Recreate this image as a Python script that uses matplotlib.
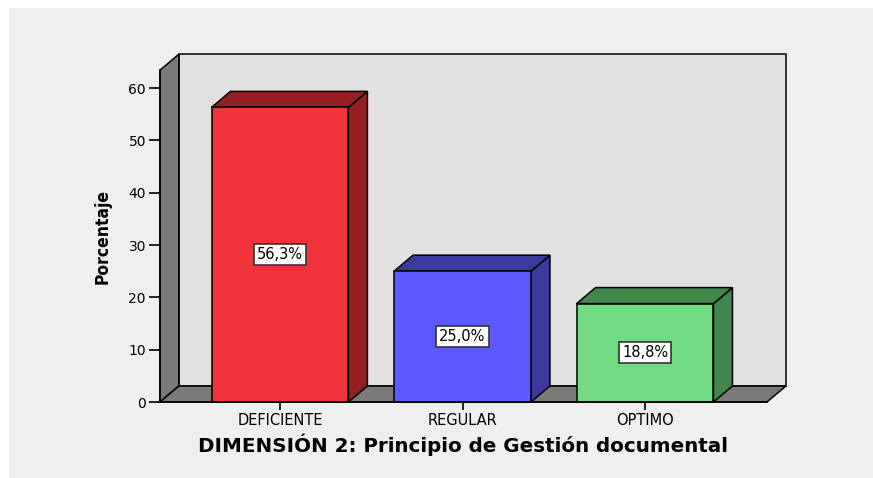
import matplotlib
matplotlib.use("Agg")
import matplotlib.pyplot as plt
from matplotlib.patches import Polygon, Rectangle
from matplotlib import font_manager

# data
categorias = ["DEFICIENTE", "REGULAR", "OPTIMO"]
porcentajes = [56.3, 25.0, 18.8]
y_ticks = [0, 10, 20, 30, 40, 50, 60]

# colours: front face / side+top face
frente = ["#F0323A", "#5A5AFF", "#70DB82"]
lado = ["#951E22", "#3A3A9E", "#41874D"]

# 3d look: depth offset, bar width, wall extent
DX, DY = 0.104, 3.06
ANCHO = 0.75
X0, X1 = -0.658, 2.668
TOPE = 63.4

# narrow bold face for the y title, if there is one
names = {f.name for f in font_manager.fontManager.ttflist}
ylab_font = dict(family="DejaVu Sans", fontstretch="condensed")
if "Liberation Sans Narrow" in names:
    ylab_font = dict(family="Liberation Sans Narrow")

fig = plt.figure(figsize=(8.73, 4.78), dpi=100, facecolor="white")
fig.patches.append(Rectangle((9 / 873, 0), 1, 1 - 8 / 478, transform=fig.transFigure,
                             facecolor="#EFEFEF", edgecolor="none", zorder=-10))
ax = fig.add_axes([0, 0, 1, 1])
ax.set_facecolor("none")
ax.set_xlim(-1.534, 3.249)
ax.set_ylim(-14.52, 76.82)

lw = 1.1
# back wall
ax.add_patch(Rectangle((X0 + DX, DY), X1 - X0, TOPE, facecolor="#E1E1E1",
                       edgecolor="black", lw=lw, zorder=1))
# left wall
ax.add_patch(Polygon([(X0, 0), (X0 + DX, DY), (X0 + DX, TOPE + DY), (X0, TOPE)],
                     closed=True, facecolor="#7A7A7A", edgecolor="black", lw=lw, zorder=2))
# floor
ax.add_patch(Polygon([(X0, 0), (X1, 0), (X1 + DX, DY), (X0 + DX, DY)],
                     closed=True, facecolor="#7A7A7A", edgecolor="black", lw=lw, zorder=2))

for i, (v, cf, cl) in enumerate(zip(porcentajes, frente, lado)):
    l, r = i - ANCHO / 2, i + ANCHO / 2
    ax.add_patch(Polygon([(r, 0), (r + DX, DY), (r + DX, v + DY), (r, v)], closed=True,
                         facecolor=cl, edgecolor="black", lw=lw, zorder=3))
    ax.add_patch(Polygon([(l, v), (r, v), (r + DX, v + DY), (l + DX, v + DY)], closed=True,
                         facecolor=cl, edgecolor="black", lw=lw, zorder=3))
    ax.add_patch(Rectangle((l, 0), ANCHO, v, facecolor=cf, edgecolor="black",
                           lw=lw, zorder=4))
    ax.text(i, v / 2, f"{v:.1f}%".replace(".", ","), ha="center", va="center",
            fontsize=10.5, zorder=5,
            bbox=dict(boxstyle="square,pad=0.2", facecolor="white",
                      edgecolor="#333333", lw=1.2))

for s in ["top", "right"]:
    ax.spines[s].set_visible(False)
ax.spines["left"].set_position(("data", X0))
ax.spines["left"].set_bounds(0, TOPE)
ax.spines["bottom"].set_position(("data", 0))
ax.spines["bottom"].set_bounds(X0, X1)
for s in ["left", "bottom"]:
    ax.spines[s].set_linewidth(lw)
    ax.spines[s].set_zorder(6)

ax.set_yticks(y_ticks)
ax.set_xticks(range(len(categorias)))
ax.set_xticklabels(categorias)
ax.tick_params(axis="y", direction="out", length=8, width=1.2, pad=2, labelsize=10)
ax.tick_params(axis="x", direction="out", length=6, width=1.2, pad=2, labelsize=10.5)

ax.set_xlabel("DIMENSIÓN 2: Principio de Gestión documental", fontsize=14.3,
              fontweight="bold")
ax.xaxis.set_label_coords(0.530, 0.069)
ax.xaxis.label.set_verticalalignment("center")
ax.set_ylabel("Porcentaje", fontsize=12.5, fontweight="bold", **ylab_font)
ax.yaxis.set_label_coords(0.118, 0.506)
ax.yaxis.label.set_verticalalignment("center")

fig.savefig("out.png", dpi=100, facecolor=fig.get_facecolor())
